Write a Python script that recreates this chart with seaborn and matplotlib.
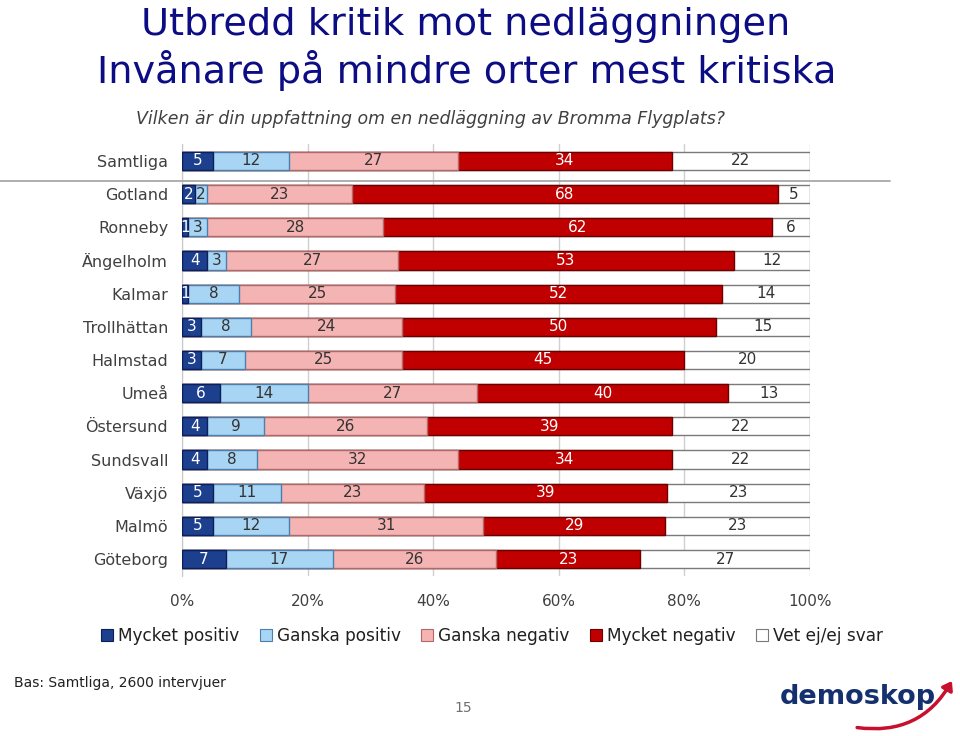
import numpy as np
import seaborn as sns
import matplotlib.pyplot as plt
from matplotlib.patches import Patch, FancyArrowPatch
from matplotlib.lines import Line2D

# Data
regions = ['Samtliga', 'Gotland', 'Ronneby', 'Ängelholm', 'Kalmar', 'Trollhättan',
           'Halmstad', 'Umeå', 'Östersund', 'Sundsvall', 'Växjö', 'Malmö', 'Göteborg']
mycket_positiv = [5, 2, 1, 4, 1, 3, 3, 6, 4, 4, 5, 5, 7]
ganska_positiv = [12, 2, 3, 3, 8, 8, 7, 14, 9, 8, 11, 12, 17]
ganska_negativ = [27, 23, 28, 27, 25, 24, 25, 27, 26, 32, 23, 31, 26]
mycket_negativ = [34, 68, 62, 53, 52, 50, 45, 40, 39, 34, 39, 29, 23]
vet_ej = [22, 5, 6, 12, 14, 15, 20, 13, 22, 22, 23, 23, 27]

series_names = ['Mycket positiv', 'Ganska positiv', 'Ganska negativ', 'Mycket negativ', 'Vet ej/ej svar']
series = [mycket_positiv, ganska_positiv, ganska_negativ, mycket_negativ, vet_ej]
colors = ['#1c3f8e', '#a8d5f3', '#f5b4b4', '#c00000', '#ffffff']
edges = ['#0a1f5c', '#4a7fb0', '#b06868', '#6a0000', '#7a7a7a']
text_colors = ['white', '#333333', '#333333', 'white', '#333333']

vals = np.array(series, dtype=float)          # shape (5, 13)
pct = vals / vals.sum(axis=0) * 100           # 100% stacked like Excel
cum = np.cumsum(pct, axis=0)

sns.set_style('white')
plt.rcParams['font.family'] = ['DejaVu Sans']

fig = plt.figure(figsize=(9.6, 7.36), dpi=100)
ax = fig.add_axes([0.1896, 0.2179, 0.654, 0.586])

# draw cumulative totals from the right-most segment down so they stack
for k in range(4, -1, -1):
    sns.barplot(x=cum[k], y=regions, orient='h', color=colors[k], saturation=1,
                width=0.55, edgecolor=edges[k], linewidth=1.0, ax=ax, zorder=3)

# segment labels
for k in range(5):
    for i in range(len(regions)):
        start = cum[k][i] - pct[k][i]
        ax.text(start + pct[k][i] / 2, i, str(int(vals[k][i])), ha='center', va='center',
                fontsize=11, color=text_colors[k], zorder=5)

ax.set_xlim(0, 100)
ax.set_ylim(12.5, -0.5)
ax.set_xticks([0, 20, 40, 60, 80, 100])
ax.set_xticklabels(['0%', '20%', '40%', '60%', '80%', '100%'])
ax.set_xlabel('')
ax.set_ylabel('')
ax.grid(axis='x', color='#d0d0d0', linewidth=1, zorder=0)
ax.set_axisbelow(True)
for s in ['top', 'right', 'bottom']:
    ax.spines[s].set_visible(False)
ax.spines['left'].set_color('#c8c8c8')
ax.tick_params(axis='x', length=0, pad=13, labelsize=11, labelcolor='#404040')
ax.tick_params(axis='y', length=0, pad=10, labelsize=11.5, labelcolor='#404040')

# separator line under Samtliga
fig.add_artist(Line2D([0, 0.927], [0.754, 0.754], color='#a8a8a8', linewidth=1.3))

# titles
fig.text(0.485, 0.9524, 'Utbredd kritik mot nedläggningen', ha='center', va='baseline',
         fontsize=27.5, color='#0c0c84')
fig.text(0.486, 0.887, 'Invånare på mindre orter mest kritiska', ha='center', va='baseline',
         fontsize=27.5, color='#0c0c84')
fig.text(0.448, 0.8315, 'Vilken är din uppfattning om en nedläggning av Bromma Flygplats?',
         ha='center', va='baseline', fontsize=12.5, style='italic', color='#404040')

# legend
handles = [Patch(facecolor=colors[k], edgecolor=edges[k], linewidth=0.8) for k in range(5)]
fig.legend(handles, series_names, loc='center', bbox_to_anchor=(0.5125, 0.1359), ncol=5,
           frameon=False, fontsize=12.2, handlelength=0.7, handleheight=0.7,
           handletextpad=0.3, columnspacing=1.2, labelcolor='#202020')

# footer
fig.text(0.0146, 0.0665, 'Bas: Samtliga, 2600 intervjuer', ha='left', va='baseline',
         fontsize=10, color='#202020')
fig.text(0.4823, 0.038, '15', ha='center', va='center', fontsize=10, color='#707070')

# logo
fig.text(0.8125, 0.043, 'demoskop', ha='left', va='baseline', fontsize=19.5,
         fontweight='bold', color='#14306e')
fig.add_artist(FancyArrowPatch((0.89, 0.012), (0.993, 0.078), transform=fig.transFigure,
                               connectionstyle='arc3,rad=0.35',
                               arrowstyle='-|>,head_length=5,head_width=3.5',
                               color='#c8102e', linewidth=2.5))

fig.savefig('out.png', dpi=100)
